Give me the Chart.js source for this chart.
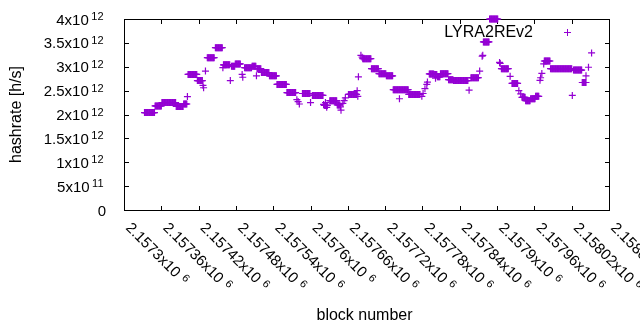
<!DOCTYPE html>
<html><head><meta charset="utf-8">
<script src="https://cdn.jsdelivr.net/npm/chart.js@4.4.1/dist/chart.umd.min.js"></script>
<style>html,body{margin:0;padding:0;background:#fff;}#wrap{width:640px;height:330px;}</style>
</head><body><div id="wrap"><canvas id="c" width="640" height="330"></canvas></div>
<script>
// ---- data (hashrate values in units of 1e12 h/s) ----
const seriesName = 'LYRA2REv2';
const xTitle = 'block number';
const yTitle = 'hashrate [h/s]';
// runs of consecutive blocks sharing the same hashrate estimate
const runStart = [2157333,2157350,2157361,2157384,2157396,2157403,2157418,2157434,2157447,2157460,2157473,2157479,2157494,2157506,2157514,2157521,2157534,2157546,2157562,2157587,2157603,2157622,2157631,2157643,2157661,2157684,2157698,2157710,2157722,2157733,2157758,2157791,2157799,2157804,2157809,2157822,2157830,2157858,2157878,2157888,2157907,2157924,2157940,2157946,2157954,2157962,2157976,2157986,2158023,2158037];
const runEnd   = [2157349,2157360,2157383,2157395,2157401,2157417,2157426,2157445,2157458,2157470,2157478,2157487,2157505,2157512,2157520,2157533,2157545,2157561,2157576,2157599,2157620,2157627,2157642,2157647,2157674,2157697,2157709,2157721,2157732,2157757,2157776,2157798,2157803,2157808,2157821,2157829,2157853,2157870,2157887,2157901,2157918,2157933,2157945,2157953,2157961,2157967,2157985,2158020,2158036,2158043];
const runValue = [2.04,2.18,2.25,2.17,2.22,2.84,2.71,3.19,3.40,3.04,3.01,3.06,2.98,3.01,2.96,2.88,2.81,2.63,2.46,2.44,2.40,2.19,2.29,2.20,2.42,3.17,2.96,2.855,2.81,2.52,2.42,2.85,2.84,2.79,2.855,2.73,2.71,2.77,3.52,4.00,2.96,2.65,2.36,2.29,2.33,2.38,3.12,2.96,2.93,2.67];
// isolated blocks
const singleBlock = [2157402,2157427,2157428,2157431,2157459,2157471,2157490,2157491,2157513,2157578,2157580,2157582,2157600,2157621,2157624,2157626,2157648,2157649,2157652,2157654,2157656,2157675,2157676,2157677,2157681,2157683,2157743,2157779,2157781,2157784,2157787,2157788,2157801,2157855,2157872,2157876,2157877,2157904,2157905,2157921,2157935,2157938,2157969,2157970,2157972,2157975,2158021,2158043,2158047,2158052];
const singleValue = [2.375,2.61,2.56,2.91,2.98,2.71,2.84,2.78,2.81,2.31,2.27,2.22,2.25,2.21,2.25,2.15,2.16,2.09,2.235,2.29,2.35,2.50,2.38,2.79,3.24,3.20,2.33,2.38,2.44,2.54,2.63,2.68,2.76,2.51,2.91,3.22,3.24,3.09,3.07,2.80,2.50,2.43,2.715,2.77,2.86,3.06,2.40,2.81,2.99,3.29];
// ticks
const xTickValues = [2157300,2157360,2157420,2157480,2157540,2157600,2157660,2157720,2157780,2157840,2157900,2157960,2158020,2158080];
const xTickBase = ['2.1573x10','2.15736x10','2.15742x10','2.15748x10','2.15754x10','2.1576x10','2.15766x10','2.15772x10','2.15778x10','2.15784x10','2.1579x10','2.15796x10','2.15802x10','2.15808x10'];
const xTickExp = '6';
const yTickValues = [0,5e11,1e12,1.5e12,2e12,2.5e12,3e12,3.5e12,4e12];
const yTickBase = ['0','5x10','1x10','1.5x10','2x10','2.5x10','3x10','3.5x10','4x10'];
const yTickExp = ['','11','12','12','12','12','12','12','12'];

// ---- build point table for the library ----
const points = [];
for (let i = 0; i < runStart.length; i++) {
  for (let b = runStart[i]; b <= runEnd[i]; b++) points.push({x: b, y: runValue[i] * 1e12});
}
for (let i = 0; i < singleBlock.length; i++) points.push({x: singleBlock[i], y: singleValue[i] * 1e12});

const COLOR = '#9400d3';
const FONT = '"Liberation Sans", Arial, sans-serif';
const BASE_PX = 15, EXP_PX = 11, TITLE_PX = 16;

const gnuplotDecor = {
  id: 'gnuplotDecor',
  beforeDatasetsDraw(chart) {
    const ctx = chart.ctx, a = chart.chartArea;
    const xs = chart.scales.x, ys = chart.scales.y;
    ctx.save();
    ctx.strokeStyle = '#000'; ctx.lineWidth = 1;
    ctx.strokeRect(Math.round(a.left) + 0.5, Math.round(a.top) + 0.5, Math.round(a.right - a.left), Math.round(a.bottom - a.top));
    ctx.beginPath();
    const T = 5;
    xTickValues.forEach(v => {
      const px = Math.round(xs.getPixelForValue(v)) + 0.5;
      ctx.moveTo(px, a.bottom + 1); ctx.lineTo(px, a.bottom + 1 - T);
      ctx.moveTo(px, a.top); ctx.lineTo(px, a.top + T);
    });
    yTickValues.forEach(v => {
      const py = Math.round(ys.getPixelForValue(v)) + 0.5;
      ctx.moveTo(a.left, py); ctx.lineTo(a.left + T, py);
      ctx.moveTo(a.right + 1, py); ctx.lineTo(a.right + 1 - T, py);
    });
    ctx.stroke();

    ctx.fillStyle = '#000';
    // y tick labels
    yTickValues.forEach((v, i) => {
      const py = ys.getPixelForValue(v);
      ctx.textAlign = 'right'; ctx.textBaseline = 'alphabetic';
      if (yTickExp[i]) {
        ctx.font = EXP_PX + 'px ' + FONT;
        ctx.fillText(yTickExp[i], 103.5, py + 1);
        const ew = ctx.measureText(yTickExp[i]).width;
        ctx.font = BASE_PX + 'px ' + FONT;
        ctx.fillText(yTickBase[i], 103.5 - ew - 2.5, py + 5.5);
      } else {
        ctx.font = BASE_PX + 'px ' + FONT;
        ctx.fillText(yTickBase[i], 106, py + 5.5);
      }
    });
    // x tick labels, rotated clockwise by 45 degrees
    xTickValues.forEach((v, i) => {
      const px = xs.getPixelForValue(v);
      ctx.save();
      ctx.translate(px + 1, a.bottom + 18.5);
      ctx.rotate(Math.PI / 4);
      ctx.textAlign = 'left'; ctx.textBaseline = 'alphabetic';
      ctx.font = BASE_PX + 'px ' + FONT;
      ctx.fillText(xTickBase[i], 0, 0);
      const bw = ctx.measureText(xTickBase[i]).width;
      ctx.font = EXP_PX + 'px ' + FONT;
      ctx.fillText(xTickExp, bw + 5, -4.5);
      ctx.restore();
    });
    // axis titles
    ctx.font = TITLE_PX + 'px ' + FONT;
    ctx.textAlign = 'center'; ctx.textBaseline = 'middle';
    ctx.fillText(xTitle, (a.left + a.right) / 2 - 2, 316);
    ctx.save();
    ctx.translate(17, (a.top + a.bottom) / 2);
    ctx.rotate(-Math.PI / 2);
    ctx.fillText(yTitle, 0, 0);
    ctx.restore();
    ctx.restore();
  },
  afterDraw(chart) {
    const ctx = chart.ctx;
    ctx.save();
    ctx.font = TITLE_PX + 'px ' + FONT;
    ctx.fillStyle = '#000';
    ctx.textAlign = 'right'; ctx.textBaseline = 'alphabetic';
    ctx.fillText(seriesName, 533, 37);
    ctx.strokeStyle = COLOR; ctx.lineWidth = 1;
    ctx.beginPath();
    ctx.moveTo(564, 32.5); ctx.lineTo(571, 32.5);
    ctx.moveTo(567.5, 29); ctx.lineTo(567.5, 36);
    ctx.stroke();
    ctx.restore();
  }
};

new Chart(document.getElementById('c'), {
  type: 'scatter',
  data: {datasets: [{
    label: seriesName, data: points,
    pointStyle: 'cross', pointRadius: 3.5, pointHoverRadius: 3.5,
    borderColor: COLOR, backgroundColor: COLOR, borderWidth: 1.2, clip: false
  }]},
  options: {
    responsive: false, animation: false, devicePixelRatio: 1, events: [],
    layout: {autoPadding: false, padding: {left: 0, top: 19, right: 31, bottom: 0}},
    plugins: {legend: {display: false}, tooltip: {enabled: false}},
    scales: {
      x: {type: 'linear', min: 2157300, max: 2158080,
          ticks: {display: false, stepSize: 60}, grid: {display: false}, border: {display: false},
          afterFit(s) { s.height = 120; }},
      y: {type: 'linear', min: 0, max: 4e12,
          ticks: {display: false, stepSize: 5e11}, grid: {display: false}, border: {display: false},
          afterFit(s) { s.width = 124; }}
    }
  },
  plugins: [gnuplotDecor]
});
</script></body></html>
